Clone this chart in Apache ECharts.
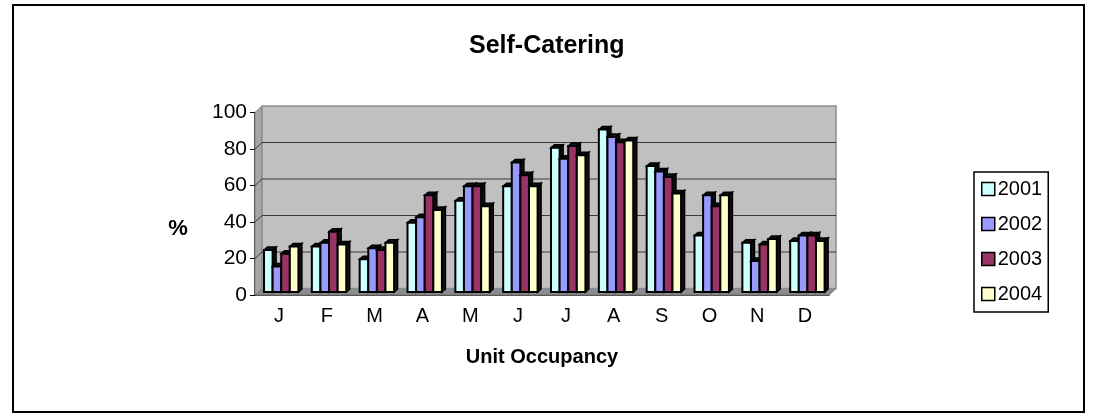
<!DOCTYPE html>
<html>
<head>
<meta charset="utf-8">
<script src="https://cdn.jsdelivr.net/npm/echarts@6/dist/echarts.min.js"></script>
<style>
  html, body { margin: 0; padding: 0; background: #fff; }
  #chart { width: 1093px; height: 413px; }
</style>
</head>
<body>
<div id="chart"></div>
<script>
// data
const months = ["J", "F", "M", "A", "M", "J", "J", "A", "S", "O", "N", "D"];
const years = ["2001", "2002", "2003", "2004"];
const occ2001 = [23, 25, 18, 38, 50, 58, 79, 89, 69, 31, 27, 28];
const occ2002 = [14, 27, 24, 41, 58, 71, 73, 85, 66, 53, 17, 31];
const occ2003 = [21, 33, 23, 53, 58, 64, 80, 82, 63, 47, 26, 31];
const occ2004 = [25, 26, 27, 45, 47, 58, 75, 83, 54, 53, 29, 28];
const yTicks = [0, 20, 40, 60, 80, 100];

const seriesValues = [occ2001, occ2002, occ2003, occ2004];
const colors = ["#CCFFFF", "#9999FF", "#993366", "#FFFFCC"];

// 3d look
const wallDx = 7, wallDy = -6.5;   // depth of the floor / back wall
const midDx = 3.3, midDy = -3;     // bars sit half way in
const barDx = 3.5, barDy = -3;     // depth of a single bar
const barW = 8.6;

const chart = echarts.init(document.getElementById("chart"));

function wallsItem(params, api) {
  const cs = params.coordSys;
  const L = cs.x, R = cs.x + cs.width, T = cs.y, B = cs.y + cs.height;
  const kids = [];
  // floor
  kids.push({ type: "polygon", shape: { points: [[L, B], [L + wallDx, B + wallDy], [R + wallDx, B + wallDy], [R, B]] },
    style: { fill: "#8C8C8C", stroke: "#6E6E6E", lineWidth: 1 } });
  // left side wall
  kids.push({ type: "polygon", shape: { points: [[L, T], [L + wallDx, T + wallDy], [L + wallDx, B + wallDy], [L, B]] },
    style: { fill: "#A6A6A6", stroke: "#808080", lineWidth: 1 } });
  // back wall
  kids.push({ type: "rect", shape: { x: L + wallDx, y: T + wallDy, width: cs.width, height: cs.height },
    style: { fill: "#C0C0C0", stroke: "#8C8C8C", lineWidth: 1.5 } });
  yTicks.forEach(function (v) {
    if (v === 0 || v === yTicks[yTicks.length - 1]) return;
    const y = api.coord([0, v])[1];
    kids.push({ type: "line", shape: { x1: L + wallDx, y1: y + wallDy, x2: R + wallDx, y2: y + wallDy },
      style: { stroke: "#3A3A3A", lineWidth: 1.2 } });
    kids.push({ type: "line", shape: { x1: L, y1: y, x2: L + wallDx, y2: y + wallDy },
      style: { stroke: "#3A3A3A", lineWidth: 1 } });
  });
  return { type: "group", children: kids };
}

function barItemFor(s) {
  return function (params, api) {
    const i = api.value(0), v = api.value(1);
    const cx = api.coord([i, 0])[0];
    const base = api.coord([i, 0])[1] + midDy;
    const top = api.coord([i, v])[1] + midDy;
    const x0 = cx - (4 * barW) / 2 + s * barW + midDx - 1;
    const x1 = x0 + barW;
    return {
      type: "group",
      children: [
        { type: "polygon", shape: { points: [[x1, top], [x1 + barDx, top + barDy], [x1 + barDx, base + barDy], [x1, base]] },
          style: { fill: "#111", stroke: "#000", lineWidth: 1.5 } },
        { type: "polygon", shape: { points: [[x0, top], [x0 + barDx, top + barDy], [x1 + barDx, top + barDy], [x1, top]] },
          style: { fill: "#111", stroke: "#000", lineWidth: 1.5 } },
        { type: "rect", shape: { x: x0, y: top, width: barW, height: base - top },
          style: { fill: colors[s], stroke: "#000", lineWidth: 2 } }
      ]
    };
  };
}

const series = [{
  type: "custom",
  name: "walls",
  z: 1,
  silent: true,
  renderItem: wallsItem,
  data: [[0, 0]]
}];
years.forEach(function (yr, s) {
  series.push({
    type: "custom",
    name: yr,
    z: 2,
    itemStyle: { color: colors[s] },
    renderItem: barItemFor(s),
    data: seriesValues[s].map(function (v, i) { return [i, v]; })
  });
});

chart.setOption({
  animation: false,
  backgroundColor: "#fff",
  textStyle: { fontFamily: "Liberation Sans", color: "#000" },
  title: {
    text: "Self-Catering",
    left: 464, top: 29,
    textStyle: { fontSize: 25, fontWeight: "bold", color: "#000", fontFamily: "Liberation Sans" }
  },
  graphic: [{
    type: "rect", z: 0,
    shape: { x: 13, y: 5, width: 1071, height: 407 },
    style: { fill: "none", stroke: "#000", lineWidth: 2 }
  }, {
    // the "%" sits lower than the middle of the axis
    type: "text", z: 5,
    x: 178, y: 229,
    style: { text: "%", font: "bold 22px 'Liberation Sans'", fill: "#000", align: "center", verticalAlign: "middle" }
  }],
  legend: {
    data: years.map(function (yr, s) {
      return { name: yr, itemStyle: { color: colors[s], borderColor: "#000", borderWidth: 1.5 } };
    }),
    orient: "vertical",
    left: 974, top: 172,
    icon: "rect",
    itemWidth: 13, itemHeight: 13,
    itemGap: 15,
    padding: [7, 6, 8, 7],
    borderColor: "#000", borderWidth: 1.5,
    textStyle: { fontSize: 20, color: "#000", fontFamily: "Liberation Sans", padding: [0, 0, 0, -2] }
  },
  grid: { left: 255, right: 264, top: 112.5, bottom: 118 },
  xAxis: {
    type: "category",
    data: months,
    name: "Unit Occupancy",
    nameLocation: "middle",
    nameGap: 52,
    nameTextStyle: { fontSize: 20, fontWeight: "bold", color: "#000" },
    axisLine: { lineStyle: { color: "#000", width: 1.5 } },
    axisTick: { length: 5, lineStyle: { color: "#000" } },
    axisLabel: { fontSize: 20, color: "#000", margin: 11 }
  },
  yAxis: {
    type: "value",
    min: yTicks[0], max: yTicks[yTicks.length - 1], interval: 20,
    axisLine: { show: true, lineStyle: { color: "#000", width: 1.5 } },
    axisTick: { show: true, length: 5, lineStyle: { color: "#000" } },
    axisLabel: { fontSize: 21, color: "#000", margin: 8 },
    splitLine: { show: false }
  },
  series: series
});
</script>
</body>
</html>
